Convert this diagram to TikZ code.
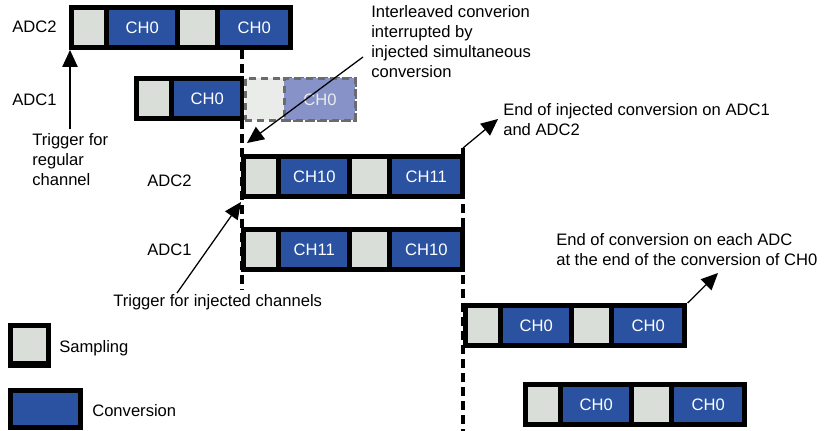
\documentclass[tikz,border=0pt]{standalone}
\usepackage{fontspec}
\setmainfont{Liberation Sans}
\usetikzlibrary{arrows.meta}

\definecolor{convblue}{HTML}{2A52A0}
\definecolor{sampgray}{HTML}{D9DED8}
\definecolor{ghostgray}{HTML}{E9ECE8}
\definecolor{ghostblue}{HTML}{8792C8}
\definecolor{ghostline}{HTML}{6B6B6B}

\tikzset{
  txt/.style={anchor=west, inner sep=0pt, align=left, font=\fontsize{11.8}{14.2}\selectfont},
  barframe/.style={anchor=north west, fill=black, inner sep=0pt, minimum height=1.125cm},
  sampbox/.style={anchor=north west, fill=sampgray, inner sep=0pt, minimum height=0.875cm},
  convbox/.style={anchor=north west, fill=convblue, inner sep=0pt, minimum height=0.875cm,
    text=white, font=\fontsize{11.8}{14.2}\selectfont},
  ghostbox/.style={anchor=north west, fill=ghostgray, draw=ghostline, line width=2pt,
    dash pattern=on 5pt off 3.5pt, inner sep=0pt, minimum height=1.05cm},
  pointer/.style={line width=0.9pt, -{Triangle[length=4.2mm,width=3.8mm]}},
  marker/.style={line width=2.2pt, dash pattern=on 6.4pt off 3.6pt}
}

% one ADC bar: name, x, y, first channel, second channel
\newcommand{\adcbar}[5]{%
  \node[barframe, minimum width=5.6cm] (#1) at (#2,#3) {};
  \node[sampbox, minimum width=0.75cm] (#1-s1) at (#2+5,#3+5) {};
  \node[convbox, minimum width=1.65cm] (#1-c1) at (#2+40,#3+5) {#4};
  \node[sampbox, minimum width=0.875cm] (#1-s2) at (#2+111,#3+5) {};
  \node[convbox, minimum width=1.7cm] (#1-c2) at (#2+151,#3+5) {#5};
}

\begin{document}
\begin{tikzpicture}[x=0.025cm, y=-0.025cm]
  \useasboundingbox (0,0) rectangle (827,431);

  % regular conversions
  \adcbar{regtwo}{69}{5}{CH0}{CH0}
  \node[barframe, minimum width=2.75cm] (regone) at (134,76) {};
  \node[sampbox, minimum width=0.75cm] (regone-s1) at (139,81) {};
  \node[convbox, minimum width=1.65cm] (regone-c1) at (174,81) {CH0};
  \node[ghostbox, minimum width=2.75cm] (regone-g) at (244,77) {};
  \node[ghostbox, fill=ghostblue, minimum width=1.775cm, text=ghostgray,
    font=\fontsize{11.8}{14.2}\selectfont] (regone-gc) at (283,77) {CH0};

  % injected conversions
  \adcbar{injtwo}{241}{154}{CH10}{CH11}
  \adcbar{injone}{241}{227}{CH11}{CH10}

  % regular conversions resumed
  \adcbar{restwo}{463}{303}{CH0}{CH0}
  \adcbar{resone}{523}{382}{CH0}{CH0}

  % time markers
  \coordinate (mark1top) at (242,50);
  \coordinate (mark1bot) at (242,290);
  \coordinate (mark2top) at (463,148);
  \coordinate (mark2bot) at (463,431);
  \draw[marker] (mark1top) -- (mark1bot);
  \draw[marker] (mark2top) -- (mark2bot);

  % labels
  \node[txt] (lregtwo) at (12,27) {ADC2};
  \node[txt] (lregone) at (12,100) {ADC1};
  \node[txt] (linjtwo) at (147,181) {ADC2};
  \node[txt] (linjone) at (147,250) {ADC1};

  \node[txt] (trigreg) at (32,160) {Trigger for\\regular\\channel};
  \node[txt] (interl) at (371,42) {Interleaved converion\\interrupted by\\injected simultaneous\\conversion};
  \node[txt] (endinj) at (503,120) {End of injected conversion on ADC1\\and ADC2};
  \node[txt] (triginj) at (113,302) {Trigger for injected channels};
  \node[txt] (endconv) at (556,250) {End of conversion on each ADC\\at the end of the conversion of CH0};

  % legend
  \node[barframe, minimum width=1.075cm] (legsamp) at (8,323) {};
  \node[sampbox, minimum width=0.825cm, minimum height=0.825cm] (legsamp-in) at (13,328) {};
  \node[txt] (lsamp) at (59,348) {Sampling};
  \node[barframe, minimum width=1.875cm, minimum height=1.05cm] (legconv) at (8,388) {};
  \node[convbox, minimum width=1.625cm, minimum height=0.8cm] (legconv-in) at (13,393) {};
  \node[txt] (lconv) at (92,411) {Conversion};

  % pointers
  \coordinate (trigregtip) at (70,50);
  \coordinate (interltail) at (363,57);
  \coordinate (interltip) at (247,143);
  \coordinate (endinjtip) at (498,119);
  \coordinate (triginjtail) at (177,293);
  \coordinate (triginjtip) at (241,202);
  \coordinate (endconvtip) at (718,273);
  \draw[pointer] (trigreg.north west -| trigregtip) ++(0,-5) -- (trigregtip);
  \draw[pointer] (interltail) -- (interltip);
  \draw[pointer] (mark2top) -- (endinjtip);
  \draw[pointer] (triginjtail) -- (triginjtip);
  \draw[pointer] (restwo.north east) -- (endconvtip);
\end{tikzpicture}
\end{document}
